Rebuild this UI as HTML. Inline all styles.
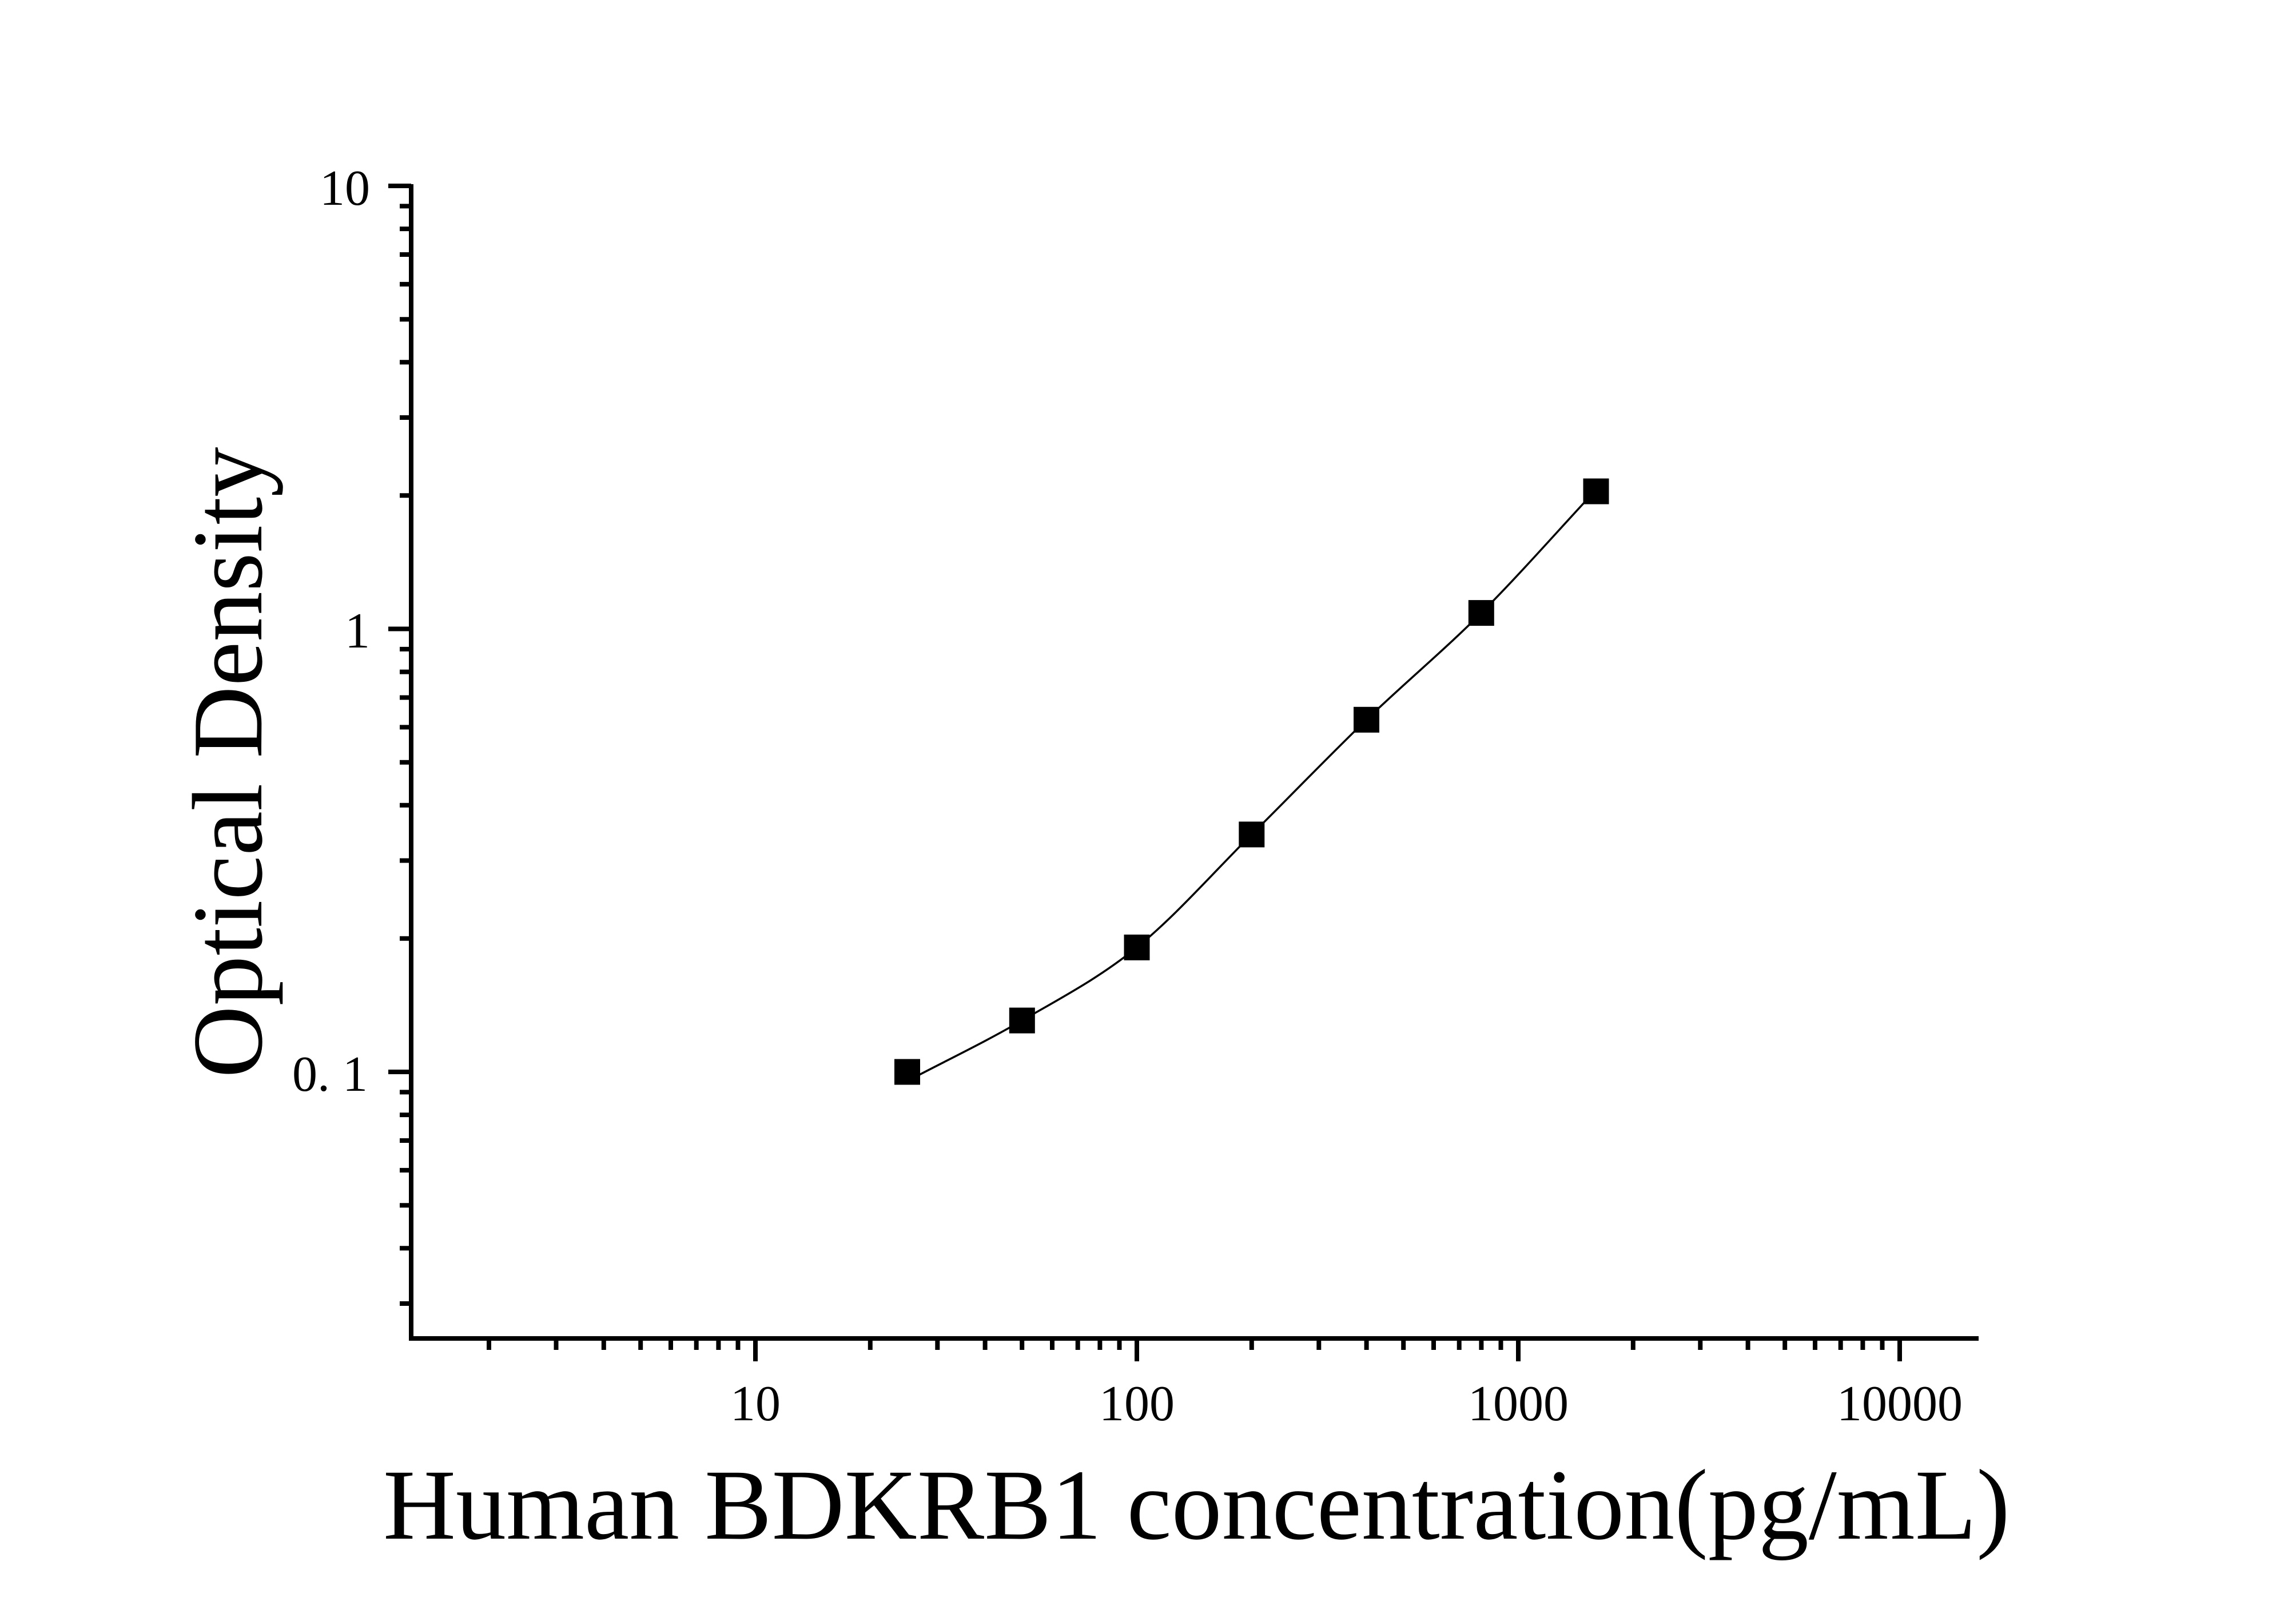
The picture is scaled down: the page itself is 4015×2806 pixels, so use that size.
<!DOCTYPE html>
<html><head><meta charset="utf-8"><style>
html,body{margin:0;padding:0;background:#fff;}
svg{display:block;}
text{font-family:"Liberation Serif","Times New Roman",serif;fill:#000;}
</style></head><body>
<svg width="4015" height="2806" viewBox="0 0 4015 2806" xmlns="http://www.w3.org/2000/svg">
<rect width="4015" height="2806" fill="#fff"/>
<g stroke="#000" stroke-width="8" fill="none">
<line x1="719" y1="322" x2="719" y2="2344"/>
<line x1="715" y1="2340" x2="3460" y2="2340"/>
<line x1="679" y1="325" x2="719" y2="325"/>
<line x1="679" y1="1099.5" x2="719" y2="1099.5"/>
<line x1="679" y1="1874" x2="719" y2="1874"/>
<g>
<line x1="699" y1="360.4" x2="719" y2="360.4"/><line x1="699" y1="400.1" x2="719" y2="400.1"/><line x1="699" y1="445" x2="719" y2="445"/><line x1="699" y1="496.9" x2="719" y2="496.9"/><line x1="699" y1="558.2" x2="719" y2="558.2"/><line x1="699" y1="633.3" x2="719" y2="633.3"/><line x1="699" y1="730" x2="719" y2="730"/><line x1="699" y1="866.3" x2="719" y2="866.3"/>
<line x1="699" y1="1134.9" x2="719" y2="1134.9"/><line x1="699" y1="1174.6" x2="719" y2="1174.6"/><line x1="699" y1="1219.5" x2="719" y2="1219.5"/><line x1="699" y1="1271.4" x2="719" y2="1271.4"/><line x1="699" y1="1332.7" x2="719" y2="1332.7"/><line x1="699" y1="1407.8" x2="719" y2="1407.8"/><line x1="699" y1="1504.5" x2="719" y2="1504.5"/><line x1="699" y1="1640.8" x2="719" y2="1640.8"/>
<line x1="699" y1="1909.4" x2="719" y2="1909.4"/><line x1="699" y1="1949.1" x2="719" y2="1949.1"/><line x1="699" y1="1994" x2="719" y2="1994"/><line x1="699" y1="2045.9" x2="719" y2="2045.9"/><line x1="699" y1="2107.2" x2="719" y2="2107.2"/><line x1="699" y1="2182.3" x2="719" y2="2182.3"/><line x1="699" y1="2279" x2="719" y2="2279"/>
</g>
<line x1="1321" y1="2340" x2="1321" y2="2380"/>
<line x1="1988" y1="2340" x2="1988" y2="2380"/>
<line x1="2655" y1="2340" x2="2655" y2="2380"/>
<line x1="3322" y1="2340" x2="3322" y2="2380"/>
<line x1="855" y1="2340" x2="855" y2="2360"/><line x1="972.5" y1="2340" x2="972.5" y2="2360"/><line x1="1055.8" y1="2340" x2="1055.8" y2="2360"/><line x1="1120.2" y1="2340" x2="1120.2" y2="2360"/><line x1="1173" y1="2340" x2="1173" y2="2360"/><line x1="1217.7" y1="2340" x2="1217.7" y2="2360"/><line x1="1256.4" y1="2340" x2="1256.4" y2="2360"/><line x1="1290.5" y1="2340" x2="1290.5" y2="2360"/>
<line x1="1521.8" y1="2340" x2="1521.8" y2="2360"/><line x1="1639.3" y1="2340" x2="1639.3" y2="2360"/><line x1="1722.6" y1="2340" x2="1722.6" y2="2360"/><line x1="1787.2" y1="2340" x2="1787.2" y2="2360"/><line x1="1840" y1="2340" x2="1840" y2="2360"/><line x1="1884.7" y1="2340" x2="1884.7" y2="2360"/><line x1="1923.4" y1="2340" x2="1923.4" y2="2360"/><line x1="1957.5" y1="2340" x2="1957.5" y2="2360"/>
<line x1="2188.8" y1="2340" x2="2188.8" y2="2360"/><line x1="2306.3" y1="2340" x2="2306.3" y2="2360"/><line x1="2389.6" y1="2340" x2="2389.6" y2="2360"/><line x1="2454.2" y1="2340" x2="2454.2" y2="2360"/><line x1="2507" y1="2340" x2="2507" y2="2360"/><line x1="2551.7" y1="2340" x2="2551.7" y2="2360"/><line x1="2590.4" y1="2340" x2="2590.4" y2="2360"/><line x1="2624.5" y1="2340" x2="2624.5" y2="2360"/>
<line x1="2855.8" y1="2340" x2="2855.8" y2="2360"/><line x1="2973.3" y1="2340" x2="2973.3" y2="2360"/><line x1="3056.6" y1="2340" x2="3056.6" y2="2360"/><line x1="3121.2" y1="2340" x2="3121.2" y2="2360"/><line x1="3174" y1="2340" x2="3174" y2="2360"/><line x1="3218.7" y1="2340" x2="3218.7" y2="2360"/><line x1="3257.4" y1="2340" x2="3257.4" y2="2360"/><line x1="3291.5" y1="2340" x2="3291.5" y2="2360"/>
</g>
<path d="M1586.5,1890 C1653.4,1854.7 1720.4,1823 1787.3,1784.1 C1854.2,1745.2 1921.1,1710.6 1988,1656.4 C2054.9,1602.2 2121.9,1525.3 2188.8,1458.9 C2255.7,1392.6 2322.6,1322.9 2389.5,1258.3 C2456.4,1193.8 2523.4,1138.6 2590.3,1071.6 C2657.2,1004.6 2724.1,928.1 2791,856.3" stroke="#000" stroke-width="3.5" fill="none"/>
<g fill="#000">
<rect x="1564" y="1851.5" width="45" height="45"/>
<rect x="1764.8" y="1761.6" width="45" height="45"/>
<rect x="1965.5" y="1633.9" width="45" height="45"/>
<rect x="2166.3" y="1436.4" width="45" height="45"/>
<rect x="2367" y="1235.8" width="45" height="45"/>
<rect x="2567.8" y="1049.1" width="45" height="45"/>
<rect x="2768.5" y="836.5" width="45" height="45"/>
</g>
<g font-size="88">
<text x="647" y="358" text-anchor="end">10</text>
<text x="647" y="1132" text-anchor="end">1</text>
<text x="643" y="1907" text-anchor="end">0. 1</text>
<text x="1321" y="2483" text-anchor="middle">10</text>
<text x="1988" y="2483" text-anchor="middle">100</text>
<text x="2655" y="2483" text-anchor="middle">1000</text>
<text x="3322" y="2483" text-anchor="middle">10000</text>
</g>
<text x="670" y="2690" font-size="176">Human BDKRB1 concentration(pg/mL)</text>
<text transform="translate(457,1333) rotate(-90)" text-anchor="middle" font-size="175">Optical Density</text>
</svg>
</body></html>
